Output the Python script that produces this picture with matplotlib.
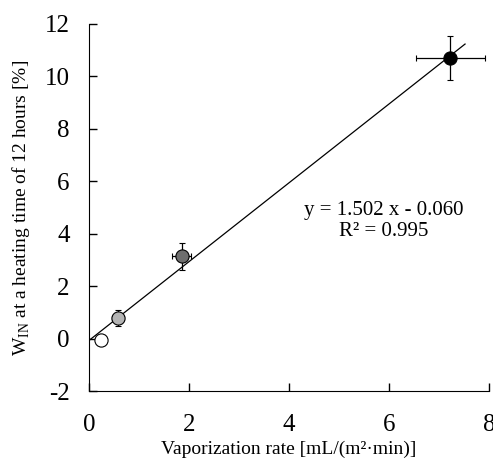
import numpy as np
import matplotlib
matplotlib.use("Agg")
import matplotlib.pyplot as plt

plt.rcParams['font.family'] = ['Liberation Serif', 'DejaVu Serif']
plt.rcParams['mathtext.fontset'] = 'custom'
plt.rcParams['mathtext.rm'] = 'Liberation Serif'
plt.rcParams['axes.unicode_minus'] = False

# measured points (vaporization rate, W_IN)
rate = [0.25, 0.59, 1.85, 7.22]
w_in = [-0.06, 0.81, 3.14, 10.71]
rate_err = [0.0, 0.12, 0.19, 0.69]
w_err = [0.0, 0.3, 0.5, 0.85]
face = ['white', '#b4b4b4', '#6e6e6e', 'black']

slope = 1.502
intercept = -0.060
fit_x = [0.0, 7.52]

fig = plt.figure(figsize=(4.93, 4.61), dpi=100)
ax = fig.add_axes([0.1805, 0.151, 0.8115, 0.797])

fx = np.array(fit_x)
ax.plot(fx, slope * fx + intercept, color='black', linewidth=0.9, zorder=1)

for i in range(len(rate)):
    ax.errorbar(rate[i], w_in[i], xerr=rate_err[i], yerr=w_err[i],
                fmt='o', markersize=9.5, markerfacecolor=face[i],
                markeredgecolor='black', markeredgewidth=0.8,
                ecolor='black', elinewidth=0.9, capsize=2, capthick=0.9, zorder=3)

ax.text(5.9, 4.91, 'y = 1.502 x - 0.060', ha='center', va='center', fontsize=15)
ax.text(5.9, 4.11, 'R² = 0.995', ha='center', va='center', fontsize=15)

ax.set_xlim(0, 8)
ax.set_ylim(-2, 12)
ax.set_xticks([0, 2, 4, 6, 8])
ax.set_yticks([-2, 0, 2, 4, 6, 8, 10, 12])
ax.spines['top'].set_visible(False)
ax.spines['right'].set_visible(False)
ax.tick_params(direction='in', length=6, width=1, labelsize=18)
ax.tick_params(axis='x', pad=16)
ax.tick_params(axis='y', pad=14)
ax.set_xlabel('Vaporization rate [mL/(m²·min)]', fontsize=14, labelpad=4)
ax.set_ylabel('W$_{\\mathrm{IN}}$ at a heating time of 12 hours [%]', fontsize=14, labelpad=9)

fig.savefig('out.png', dpi=100)
